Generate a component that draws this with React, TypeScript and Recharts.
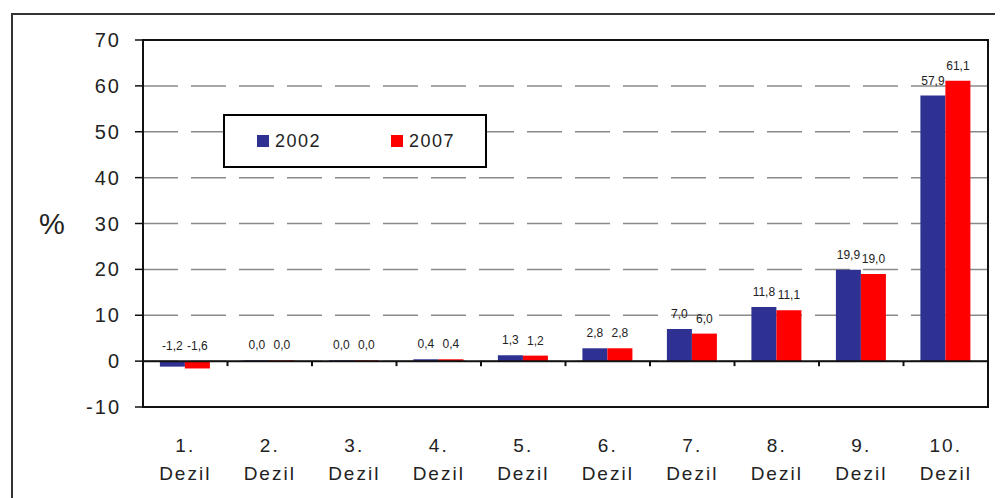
import {
  BarChart,
  Bar,
  XAxis,
  YAxis,
  CartesianGrid,
  Legend,
  LabelList,
  ReferenceLine,
  ReferenceArea,
} from 'recharts';

const categories = [
  '1. Dezil',
  '2. Dezil',
  '3. Dezil',
  '4. Dezil',
  '5. Dezil',
  '6. Dezil',
  '7. Dezil',
  '8. Dezil',
  '9. Dezil',
  '10. Dezil',
];
const values2002 = [-1.2, 0.0, 0.0, 0.4, 1.3, 2.8, 7.0, 11.8, 19.9, 57.9];
const values2007 = [-1.6, 0.0, 0.0, 0.4, 1.2, 2.8, 6.0, 11.1, 19.0, 61.1];
const yTicks = [-10, 0, 10, 20, 30, 40, 50, 60, 70];

const FONT = '"Liberation Sans", Arial, sans-serif';
const BLUE = '#2E3192';
const RED = '#FF0000';

const data = categories.map((name, i) => ({
  name,
  y2002: values2002[i],
  y2007: values2007[i],
}));

// Komma als Dezimaltrenner
const fmt = (v: number) => v.toFixed(1).replace('.', ',');

const renderValue = (props: any) => {
  const x = Number(props.x);
  const y = Number(props.y);
  const w = Number(props.width);
  const h = Number(props.height);
  const top = Math.min(y, y + h);
  return (
    <text x={x + w / 2} y={top - 11} textAnchor="middle" fontSize={12} fontFamily={FONT} fill="#222">
      {fmt(Number(props.value))}
    </text>
  );
};

const renderCategoryTick = (props: any) => {
  const { x, y, payload } = props;
  const [num, word] = String(payload.value).split(' ');
  return (
    <g>
      <text x={x} y={y + 45} textAnchor="middle" fontSize={19} letterSpacing={2} fontFamily={FONT} fill="#222">
        {num}
      </text>
      <text x={x} y={y + 73} textAnchor="middle" fontSize={19} letterSpacing={2} fontFamily={FONT} fill="#222">
        {word}
      </text>
    </g>
  );
};

// Nulllinie mit kleinen Strichen zwischen den Kategorien
const renderZeroLine = (props: any) => {
  const { x1, y1, x2 } = props;
  const step = (x2 - x1) / categories.length;
  return (
    <g>
      <line x1={x1} y1={y1} x2={x2} y2={y1} stroke="#111" strokeWidth={2} />
      {categories.slice(1).map((c, i) => (
        <line key={c} x1={x1 + step * (i + 1)} y1={y1} x2={x1 + step * (i + 1)} y2={y1 + 5} stroke="#111" strokeWidth={2} />
      ))}
    </g>
  );
};

const renderLegend = (props: any) => (
  <div
    style={{
      width: 264,
      height: 54,
      border: '2px solid #000',
      boxSizing: 'border-box',
      background: '#fff',
      position: 'relative',
      fontFamily: FONT,
      fontSize: 18,
      letterSpacing: 1.5,
      color: '#222',
    }}
  >
    {(props.payload || []).map((p: any, i: number) => (
      <div
        key={p.value}
        style={{ position: 'absolute', left: i === 0 ? 32 : 166, top: 0, height: 50, display: 'flex', alignItems: 'center' }}
      >
        <span style={{ display: 'inline-block', width: 12, height: 12, background: p.color, marginRight: 6 }} />
        <span>{p.value}</span>
      </div>
    ))}
  </div>
);

export default function App() {
  return (
    <div style={{ position: 'relative', width: 995, height: 490 }}>
      <div
        style={{
          position: 'absolute',
          left: 3,
          top: 5,
          right: 0,
          bottom: 0,
          borderLeft: '2px solid #333',
          borderTop: '2px solid #333',
        }}
      />
      <BarChart
        width={995}
        height={490}
        data={data}
        margin={{ top: 32, right: 15, left: 0, bottom: 0 }}
        barCategoryGap="20%"
        barGap={0}
        style={{ position: 'absolute', left: 0, top: 0 }}
      >
        <CartesianGrid vertical={false} stroke="#8a8a8a" strokeWidth={1.5} strokeDasharray="35 13" />
        <XAxis
          dataKey="name"
          axisLine={false}
          tickLine={false}
          tickSize={0}
          tickMargin={0}
          height={91}
          interval={0}
          tick={renderCategoryTick}
        />
        <YAxis
          width={135}
          domain={[-10, 70]}
          ticks={yTicks}
          interval={0}
          axisLine={false}
          tickLine={{ stroke: '#111', strokeWidth: 1.5 }}
          tickSize={8}
          tickMargin={14}
          tick={{ fontSize: 20, fontFamily: FONT, fill: '#222', letterSpacing: 2 }}
          label={{
            value: '%',
            position: 'insideLeft',
            offset: 31,
            style: { fontSize: 29, fontFamily: FONT, fill: '#222' },
          }}
        />
        <Legend
          layout="vertical"
          align="center"
          verticalAlign="middle"
          wrapperStyle={{ left: 215, top: 106, width: 264 }}
          content={renderLegend}
        />
        <Bar dataKey="y2002" name="2002" fill={BLUE} minPointSize={0.8} isAnimationActive={false}>
          <LabelList dataKey="y2002" content={renderValue} />
        </Bar>
        <Bar dataKey="y2007" name="2007" fill={RED} minPointSize={0.8} isAnimationActive={false}>
          <LabelList dataKey="y2007" content={renderValue} />
        </Bar>
        <ReferenceLine y={0} shape={renderZeroLine} ifOverflow="visible" />
        <ReferenceArea y1={-10} y2={70} fill="none" stroke="#111" strokeWidth={2} fillOpacity={0} ifOverflow="visible" />
      </BarChart>
    </div>
  );
}
